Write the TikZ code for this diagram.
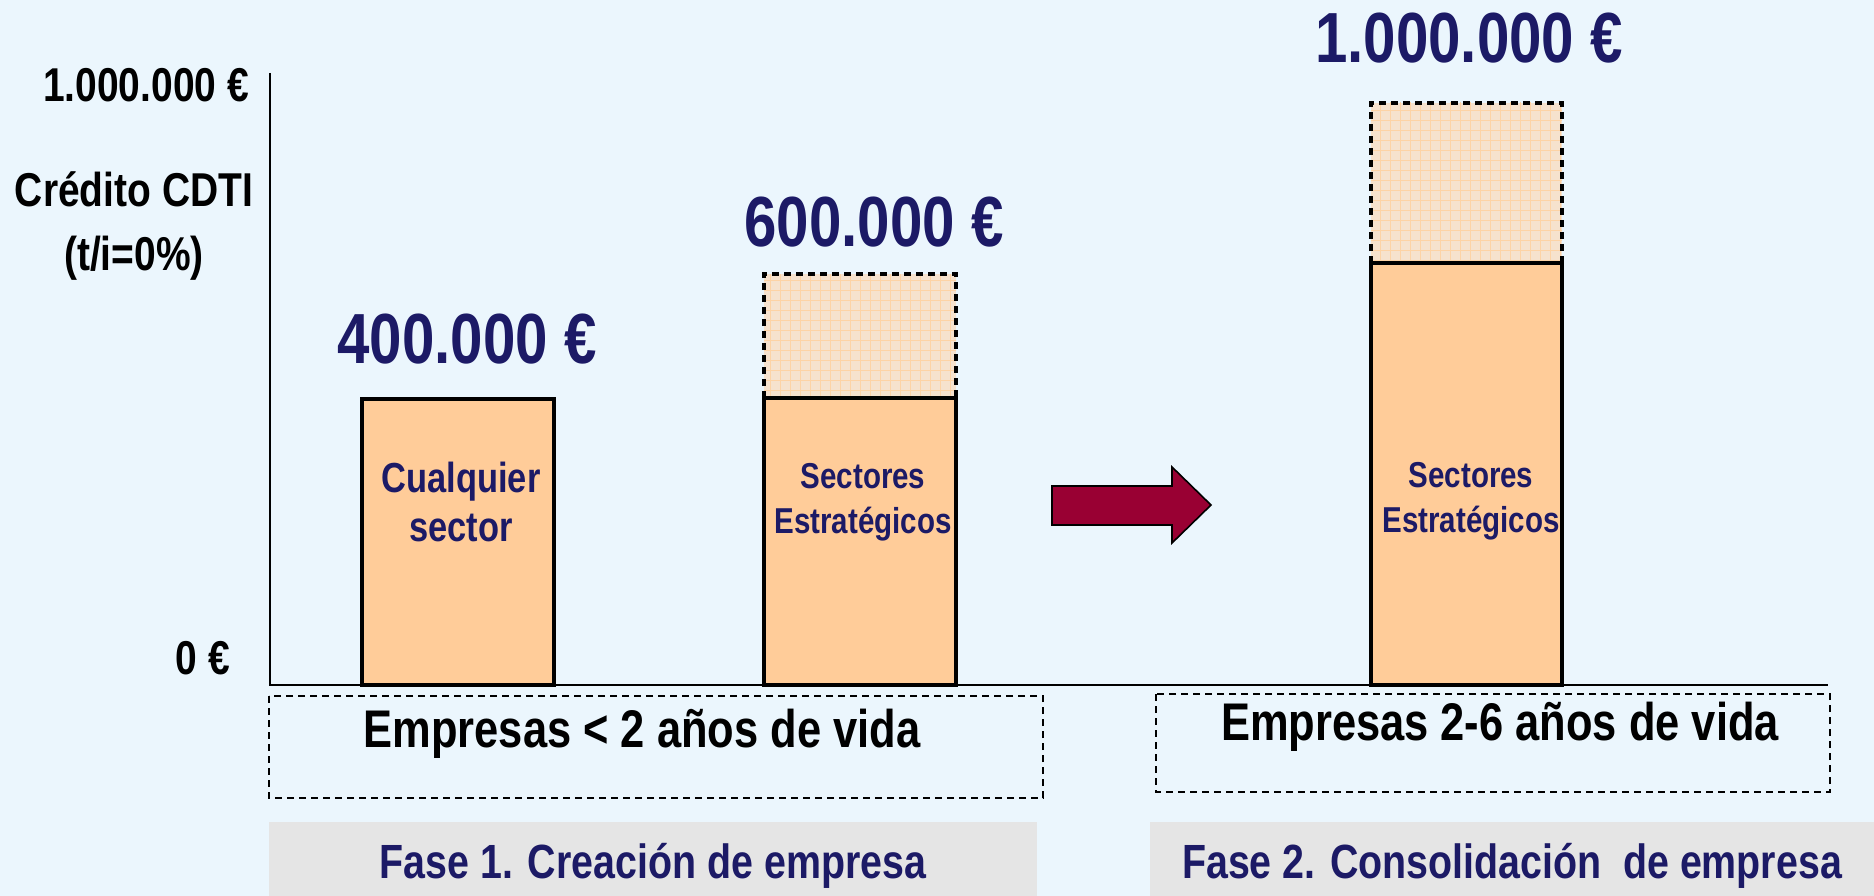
\documentclass[tikz,border=0pt]{standalone}
\usepackage{fontspec}
\setmainfont{Liberation Sans}[FakeStretch=0.82]
\definecolor{bgc}{HTML}{EBF6FD}
\definecolor{navy}{HTML}{1C1A66}
\definecolor{barc}{HTML}{FFCC99}
\definecolor{hatchbg}{HTML}{F6E2CE}
\definecolor{hatchln}{HTML}{FDD3A6}
\definecolor{greyc}{HTML}{E5E5E5}
\definecolor{arrowc}{HTML}{990033}
\tikzset{
  axlbl/.style={font=\bfseries\fontsize{47.5}{50}\selectfont, text=black, anchor=base, inner sep=0pt},
  bigval/.style={font=\bfseries\fontsize{71}{80}\selectfont, text=navy, anchor=base, inner sep=0pt},
  bartxt/.style={font=\bfseries\fontsize{42}{46}\selectfont, text=navy, anchor=base, inner sep=0pt},
  bartxtsm/.style={font=\bfseries\fontsize{36}{40}\selectfont, text=navy, anchor=base, inner sep=0pt},
  agetxt/.style={font=\bfseries\fontsize{53}{58}\selectfont, text=black, anchor=base, inner sep=0pt},
  fasetxt/.style={font=\bfseries\fontsize{48}{52}\selectfont, text=navy, anchor=base, inner sep=0pt},
  barbox/.style={draw=black, line width=3.4pt, fill=barc},
  hatchbox/.style={draw=black, line width=3.2pt, dash pattern=on 7pt off 5pt},
  agebox/.style={draw=black, line width=2pt, dash pattern=on 7pt off 5pt},
  greybox/.style={fill=greyc, draw=none},
  axisline/.style={draw=black, line width=2.4pt},
}
\begin{document}
\begin{tikzpicture}[x=1pt,y=-1pt]
\useasboundingbox (0,0) rectangle (1874,896);
\fill[bgc] (0,0) rectangle (1874,896);

% hatched extensions
\fill[hatchbg] (764,274) rectangle (956,398);
\begin{scope}
\clip (764,274) rectangle (956,398);
\draw[hatchln, line width=0.9pt, step=10pt] (760,270) grid (960,400);
\end{scope}
\fill[hatchbg] (1371,103) rectangle (1562,263);
\begin{scope}
\clip (1371,103) rectangle (1562,263);
\draw[hatchln, line width=0.9pt, step=10pt] (1370,100) grid (1570,270);
\end{scope}
\draw[hatchbox] (764,398) -- (764,274) -- (956,274) -- (956,398);
\draw[hatchbox] (1371,263) -- (1371,103) -- (1562,103) -- (1562,263);

% axes
\coordinate (ytop) at (270,73);
\coordinate (origin) at (270,685);
\coordinate (xend) at (1828,685);
\draw[axisline] (ytop) -- (origin) -- (xend);

% bars
\draw[barbox] (362,399) rectangle (554,685);
\draw[barbox] (764,398) rectangle (956,685);
\draw[barbox] (1371,263) rectangle (1562,685);

% age boxes
\draw[agebox] (269,696) rectangle (1043,798);
\draw[agebox] (1156,694) rectangle (1830,792);

% grey phase boxes
\fill[greybox] (269,822) rectangle (1037,896);
\fill[greybox] (1150,822) rectangle (1874,896);

% arrow
\draw[fill=arrowc, draw=black, line width=1.6pt, line join=miter]
  (1052,486) -- (1172,486) -- (1172,467) -- (1211,505) -- (1172,543) -- (1172,525) -- (1052,525) -- cycle;

% axis labels
\node[axlbl] (ymax) at (146,102) {1.000.000 €};
\node[axlbl] (credito) at (134,207) {Crédito CDTI};
\node[axlbl] (tasa) at (134,270) {(t/i=0\%)};
\node[axlbl] (yzero) at (203,674) {0 €};

% values
\node[bigval] (v400) at (467,363) {400.000 €};
\node[bigval] (v600) at (874,247) {600.000 €};
\node[bigval] (v1m) at (1469,63) {1.000.000 €};

% bar texts
\node[bartxt] (cual) at (461,492) {Cualquier};
\node[bartxt] (sect) at (461,541) {sector};
\node[bartxtsm] (s2a) at (863,488) {Sectores};
\node[bartxtsm] (s2b) at (863,533) {Estratégicos};
\node[bartxtsm] (s3a) at (1471,487) {Sectores};
\node[bartxtsm] (s3b) at (1471,532) {Estratégicos};

% age texts
\node[agetxt] (age1) at (642,747) {Empresas < 2 años de vida};
\node[agetxt] (age2) at (1500,740) {Empresas 2-6 años de vida};

% phase texts
\node[fasetxt] (fase1) at (653,878) {Fase 1. Creación de empresa};
\node[fasetxt] (fase2) at (1512,878) {Fase 2. Consolidación\ \ de empresa};
\end{tikzpicture}
\end{document}
